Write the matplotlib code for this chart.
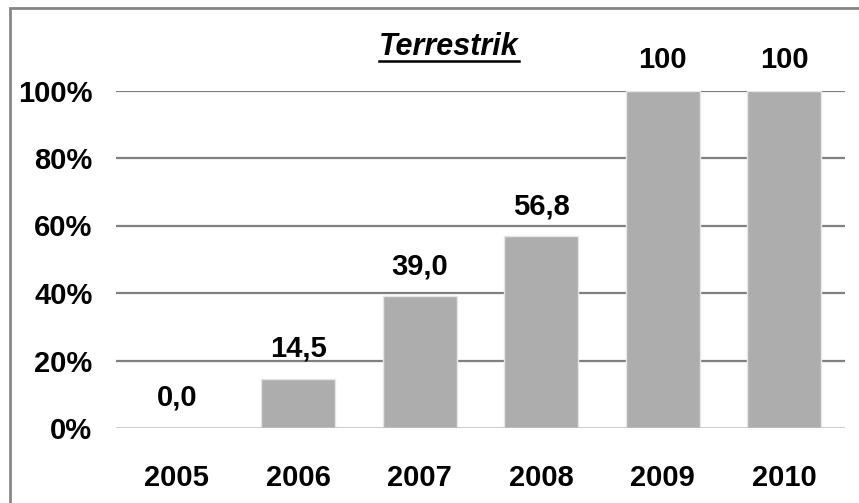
#!/usr/bin/env python3
"""Bar chart: Terrestrik coverage per year."""

import matplotlib
matplotlib.use('Agg')
import matplotlib.pyplot as plt
from matplotlib.patches import Rectangle
from matplotlib.lines import Line2D

years = ['2005', '2006', '2007', '2008', '2009', '2010']
values = [0.0, 14.5, 39.0, 56.8, 100, 100]
value_labels = ['0,0', '14,5', '39,0', '56,8', '100', '100']
y_ticks = [0, 20, 40, 60, 80, 100]
y_tick_labels = ['0%', '20%', '40%', '60%', '80%', '100%']
title = 'Terrestrik'

plt.rcParams['font.family'] = ['Liberation Sans', 'DejaVu Sans']
plt.rcParams['font.weight'] = 'bold'

W, H = 859, 503
fig = plt.figure(figsize=(W / 100, H / 100), dpi=100)
fig.patch.set_facecolor('white')

# plot area in pixels: x 116..845, y 90.5..428
ax = fig.add_axes([116 / W, 1 - 428 / H, (845 - 116) / W, (428 - 90.5) / H])
ax.set_facecolor('none')

x = list(range(len(years)))
ax.bar(x, values, width=0.61, color='#ADADAD', edgecolor='#E6E6E6', linewidth=1, zorder=3)

# gridlines (behind bars) and baseline
for t in y_ticks[1:]:
    ax.axhline(t, color='#808080', linewidth=1.6, zorder=1)
ax.axhline(0, color='#BDBDBD', linewidth=1.8, zorder=4)

# value labels above bars
for xi, v, lab in zip(x, values, value_labels):
    ax.annotate(lab, (xi, v), xytext=(0, 16), textcoords='offset points',
                ha='center', va='baseline', fontsize=21, fontweight='bold',
                color='black', annotation_clip=False)

ax.set_xlim(-0.5, len(years) - 0.5)
ax.set_ylim(0, 100)
ax.set_xticks(x)
ax.set_xticklabels(years, fontsize=21, fontweight='bold')
ax.set_yticks(y_ticks)
ax.set_yticklabels(y_tick_labels, fontsize=21, fontweight='bold')
ax.tick_params(axis='x', length=0, pad=26)
ax.tick_params(axis='y', length=0, pad=17)
for s in ax.spines.values():
    s.set_visible(False)

# title, bold italic with underline
t = fig.text(449 / W, 1 - 55 / H, title, ha='center', va='baseline',
             fontsize=22, fontweight='bold', fontstyle='italic')
fig.canvas.draw()
bb = t.get_window_extent().transformed(fig.transFigure.inverted())
uy = 1 - 61 / H
fig.add_artist(Line2D([bb.x0, bb.x1], [uy, uy], transform=fig.transFigure,
                      color='black', linewidth=1.8))

# chart border (right and bottom edges fall outside the image)
fig.add_artist(Rectangle((10 / W, -0.1), 1.0, 1 - 8 / H + 0.1, transform=fig.transFigure,
                         fill=False, edgecolor='#868686', linewidth=2))

plt.savefig('out.png', dpi=100, facecolor='white')
